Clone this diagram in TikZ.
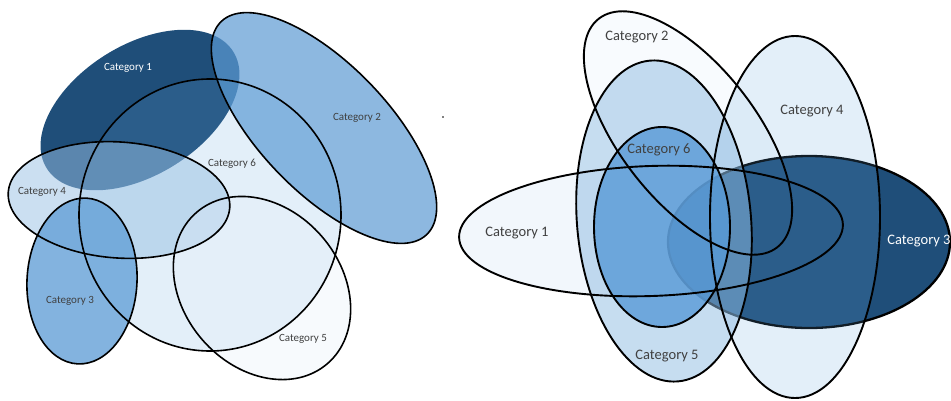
\documentclass[tikz,border=0pt]{standalone}
\usepackage{fontspec}
\setmainfont{Carlito}

\definecolor{labelgray}{RGB}{64,64,64}
\definecolor{navy}{RGB}{31,78,121}
\definecolor{steel}{RGB}{92,154,211}
\definecolor{pale}{RGB}{98,165,220}
\definecolor{mist}{RGB}{151,191,227}
\definecolor{sky}{RGB}{100,160,215}
\definecolor{frost}{RGB}{230,240,250}
\definecolor{ice}{RGB}{242,247,252}
\definecolor{snow}{RGB}{248,251,254}
\definecolor{cloud}{RGB}{142,187,226}
\definecolor{azure}{RGB}{88,154,215}

\begin{document}
\begin{tikzpicture}[
                x=1pt,y=-1pt,
                rim/.style={draw=black,line width=1.6pt},
                wide rim/.style={draw=black,line width=1.9pt},
                small label/.style={font=\fontsize{11}{13}\selectfont,text=labelgray},
                big label/.style={font=\fontsize{14.5}{17}\selectfont,text=labelgray}
            ]
                \useasboundingbox (0,0) rectangle (951,400);
                % left diagram
                \foreach \cx/\cy/\rx/\ry/\rot/\col/\op in {140/110/110/65/32/navy/1,324/128/148/64/-46/steel/.7,210/215/131/136/0/pale/.18,119/200/111/58/-4/mist/.5,82/281/55/83/-3/sky/.8,262/288/100/79/-49/frost/.3} {
                    \fill[fill=\col,fill opacity=\op,shift={(\cx,\cy)},rotate=\rot] (0,0) ellipse [x radius=\rx,y radius=\ry];
                }
                \foreach \cx/\cy/\rx/\ry/\rot in {324/128/148/64/-46,210/215/131/136/0,119/200/111/58/-4,82/281/55/83/-3,262/288/100/79/-49} {
                    \draw[rim,shift={(\cx,\cy)},rotate=\rot] (0,0) ellipse [x radius=\rx,y radius=\ry];
                }
                \fill (443,117) circle [radius=0.8];
                \node [small label,text=white] (l1) at (128,68) {Category 1};
                \foreach \n/\x/\y in {2/357/118,6/232/164,4/42/192,3/70/301,5/303/339} {
                    \node [small label] (l\n) at (\x,\y) {Category \n};
                }
                % right diagram
                \fill[ice,shift={(651,231)},rotate=2] (0,0) ellipse [x radius=192,y radius=65];
                \fill[snow,shift={(688,133)},rotate=-52] (0,0) ellipse [x radius=145,y radius=68];
                \draw[fill=navy,line width=2.3pt] (809,242) ellipse [x radius=141,y radius=86];
                \foreach \cx/\cy/\rx/\ry/\rot/\col/\op in {795/217/85/181/0/pale/.18,664/221/87/161/5/cloud/.5,662/227/68/100/0/azure/.8} {
                    \fill[fill=\col,fill opacity=\op,shift={(\cx,\cy)},rotate=\rot] (0,0) ellipse [x radius=\rx,y radius=\ry];
                }
                \foreach \cx/\cy/\rx/\ry/\rot in {651/231/192/65/2,688/133/145/68/-52,795/217/85/181/0,664/221/87/161/5,662/227/68/100/0} {
                    \draw[wide rim,shift={(\cx,\cy)},rotate=\rot] (0,0) ellipse [x radius=\rx,y radius=\ry];
                }
                \node [big label,text=white] (r3) at (919,241) {Category 3};
                \foreach \n/\x/\y in {2/637/37,4/812/111,6/659/150,1/517/233,5/667/356} {
                    \node [big label] (r\n) at (\x,\y) {Category \n};
                }
            \end{tikzpicture}
\end{document}
